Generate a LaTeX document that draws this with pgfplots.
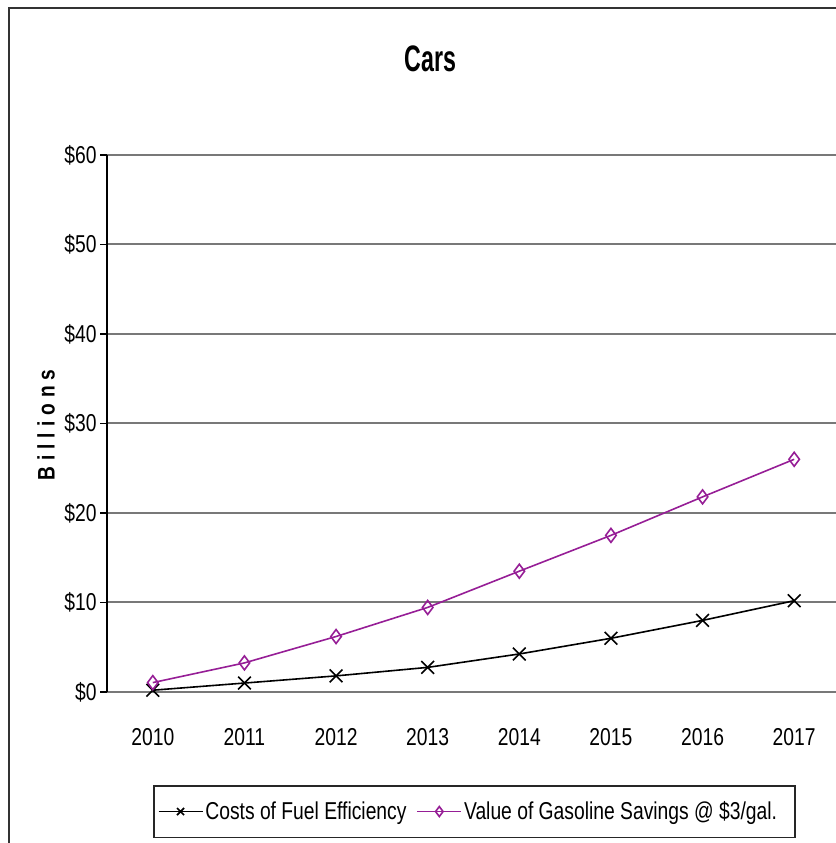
\documentclass[border=0pt]{standalone}
\usepackage{fontspec}
\setmainfont{Liberation Sans}[FakeStretch=0.79]
\newfontfamily\titlefont{Liberation Sans}[FakeStretch=0.63]
\newfontfamily\ylabfont{Liberation Sans}[FakeStretch=0.8, LetterSpace=25]
\usepackage{pgfplots}
\pgfplotsset{compat=1.18}
\definecolor{plum}{RGB}{150,30,150}
\definecolor{gridgray}{RGB}{120,120,120}

\pgfplotstableread{
x cost value
0 0.2 1.05
1 1.0 3.25
2 1.8 6.2
3 2.75 9.45
4 4.25 13.5
5 6.0 17.5
6 8.0 21.8
7 10.2 26.0
}\cardata

\begin{document}
\begin{tikzpicture}
\path[use as bounding box] (0,0) rectangle (836bp,843bp);
\clip (0,0) rectangle (836bp,843bp);
\draw[line width=2bp, black!80] (8.5bp,-5bp) -- (8.5bp,834.5bp) -- (850bp,834.5bp);
\begin{axis}[
  at={(107bp,151bp)}, anchor=south west,
  scale only axis, width=733bp, height=537bp,
  xmin=-0.5, xmax=7.5, ymin=0, ymax=60,
  axis lines*=left,
  clip=false,
  x axis line style={gridgray, line width=2bp},
  y axis line style={black, line width=1.5bp},
  xtick={0,...,7},
  xticklabels={2010,2011,2012,2013,2014,2015,2016,2017},
  minor xtick={-0.5,0.5,...,7.5},
  ytick={0,10,...,60},
  yticklabels={\$0,\$10,\$20,\$30,\$40,\$50,\$60},
  tick align=outside,
  major tick length=7bp,
  minor tick length=10bp,
  xtick style={draw=none},
  minor x tick style={black, line width=1.5bp},
  ytick style={black, line width=1.5bp},
  ymajorgrids,
  y grid style={gridgray, line width=2bp},
  tick label style={font=\fontsize{24.5}{28}\selectfont},
  xticklabel style={yshift=-26bp},
  /pgf/number format/assume math mode=true,
  ylabel={Billions},
  ylabel style={at={(axis description cs:-0.0832,0.497)}, anchor=center, font=\ylabfont\bfseries\fontsize{24}{28}\selectfont},
  title={Cars},
  title style={at={(axis description cs:0.441,1.168)}, anchor=center, font=\titlefont\bfseries\fontsize{37}{42}\selectfont},
  legend columns=2,
  legend style={at={(axis description cs:0.0628,-0.272)}, anchor=south west,
    draw=black!85, line width=1.5bp, fill=white,
    font=\fontsize{24.5}{28}\selectfont,
    inner xsep=4bp, inner ysep=14bp,
    /tikz/every even column/.append style={column sep=8bp}},
  legend image code/.code={\draw[mark repeat=2,mark phase=2,mark size=5bp] plot coordinates {(0bp,0bp) (22bp,0bp) (44bp,0bp)};},
]
\addplot[black, line width=1.6bp, mark=x, mark size=9bp] table[x=x, y=cost] {\cardata};
\addlegendentry{Costs of Fuel Efficiency}
\addplot[plum, line width=1.6bp, mark=diamond, mark size=7bp, mark options={fill=white}] table[x=x, y=value] {\cardata};
\addlegendentry{\makebox[325bp][l]{Value of Gasoline Savings @ \$3/gal.}}
\end{axis}
\end{tikzpicture}
\end{document}
